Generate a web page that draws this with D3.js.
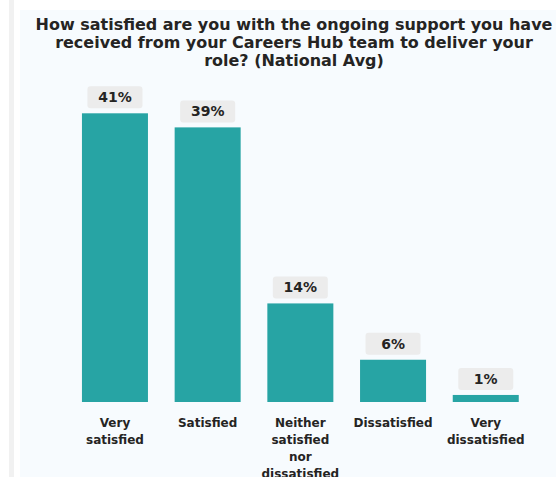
<!DOCTYPE html>
<html>
<head>
<meta charset="utf-8">
<script src="https://cdn.jsdelivr.net/npm/d3@7"></script>
<style>
body{margin:0;background:#fff;overflow:hidden}
text{font-family:"DejaVu Sans",sans-serif}
</style>
</head>
<body>
<script>
var categories=["Very satisfied","Satisfied","Neither satisfied nor dissatisfied","Dissatisfied","Very dissatisfied"]
var values=[41,39,14,6,1]
var titleLines=["How satisfied are you with the ongoing support you have","received from your Careers Hub team to deliver your","role? (National Avg)"]

var width=556, height=477
var svg=d3.select("body").append("svg").attr("width",width).attr("height",height)

// page furniture
svg.append("rect").attr("x",9).attr("y",0).attr("width",5).attr("height",height).attr("fill","#f1f1f1")
svg.append("rect").attr("x",20).attr("y",10).attr("width",width-20).attr("height",height).attr("fill","#f7fbfe")

// title, sized so the first line spans the panel
var title=svg.append("text").attr("text-anchor","middle").attr("font-weight","bold")
	.attr("font-size",15).attr("fill","#252423")
title.selectAll("tspan").data(titleLines).enter().append("tspan")
	.attr("x",294).attr("y",function(d,i){return 30+i*18}).text(function(d){return d})
var w0=title.select("tspan").node().getComputedTextLength()
title.attr("font-size",15*517/w0)

var x=d3.scaleBand().domain(categories).range([68.6,532.1]).paddingInner(0.288).paddingOuter(0.144)
var y=d3.scaleLinear().domain([0,41]).range([402,113.3])

var g=svg.append("g")
g.selectAll("rect.bar").data(values).enter().append("rect")
	.attr("class","bar")
	.attr("x",function(d,i){return x(categories[i])})
	.attr("y",function(d){return y(d)})
	.attr("width",x.bandwidth())
	.attr("height",function(d){return y(0)-y(d)})
	.attr("fill","#27a4a4")

// data labels
var lab=g.selectAll("g.lab").data(values).enter().append("g").attr("class","lab")
	.attr("transform",function(d,i){return "translate("+(x(categories[i])+x.bandwidth()/2)+","+(y(d)-5)+")"})
lab.append("rect").attr("x",-27.5).attr("y",-22).attr("width",55).attr("height",22).attr("rx",3)
	.attr("fill","#ececec")
lab.append("text").attr("text-anchor","middle").attr("y",-6).attr("font-weight","bold")
	.attr("font-size",14).attr("fill","#252423").text(function(d){return d+"%"})

// category labels, one word per line
var xAxis=d3.axisBottom(x).tickSize(0).tickPadding(0)
var ax=svg.append("g").attr("transform","translate(0,402)").call(xAxis)
ax.select(".domain").remove()
ax.selectAll("text").attr("font-size",12).attr("font-weight","bold").attr("fill","#252423")
	.attr("font-family","'DejaVu Sans',sans-serif")
	.each(function(d){
		var t=d3.select(this)
		t.text(null).attr("y",null).attr("dy",null)
		d.split(" ").forEach(function(l,i){
			t.append("tspan").attr("x",0).attr("y",25+i*17).text(l)
		})
	})
</script>
</body>
</html>
